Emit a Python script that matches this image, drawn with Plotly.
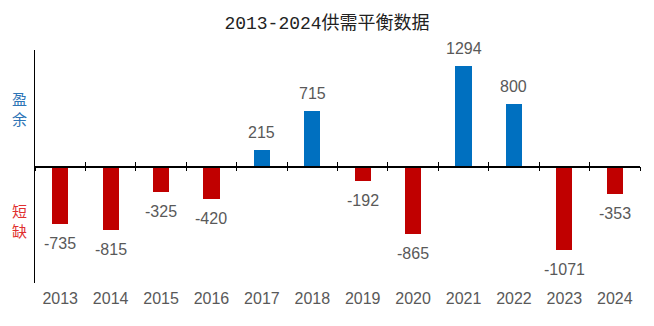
import plotly.graph_objects as go

years = ["2013", "2014", "2015", "2016", "2017", "2018", "2019", "2020", "2021", "2022", "2023", "2024"]
values = [-735, -815, -325, -420, 215, 715, -192, -865, 1294, 800, -1071, -353]
title_text = "2013-2024供需平衡数据"
surplus_label = "盈<br>余"
deficit_label = "短<br>缺"

BLUE = "#0070C0"
RED = "#C00000"
GRAY = "#595959"
NUM_FONT = "Liberation Sans Narrow, Liberation Sans, Arial, sans-serif"

colors = [BLUE if v >= 0 else RED for v in values]

fig = go.Figure()
fig.add_trace(go.Bar(x=years, y=values, marker_color=colors, width=0.32,
                     marker_line_width=0, hoverinfo="skip", showlegend=False))
# invisible traces to build zero-line axes with boundary ticks
for ax in ["x2", "x3"]:
    fig.add_trace(go.Scatter(x=years, y=[0] * len(years), xaxis=ax, mode="lines",
                             line=dict(width=0), hoverinfo="skip", showlegend=False))

annotations = []
for i, v in enumerate(values):
    annotations.append(dict(
        x=i, y=v, xref="x", yref="y", text=str(v), showarrow=False,
        yanchor="bottom" if v >= 0 else "top", yshift=7 if v >= 0 else -9,
        font=dict(family=NUM_FONT, size=16, color=GRAY)))
annotations.append(dict(x=-0.025, y=750, xref="paper", yref="y", text=surplus_label,
                        showarrow=False, xanchor="center", yanchor="middle",
                        font=dict(family="Noto Sans CJK SC", size=15, color="#2E75B6")))
annotations.append(dict(x=-0.025, y=-700, xref="paper", yref="y", text=deficit_label,
                        showarrow=False, xanchor="center", yanchor="middle",
                        font=dict(family="Noto Sans CJK SC", size=15, color="#E03030")))

common_zero = dict(type="category", categoryorder="array", categoryarray=years,
                   overlaying="x", anchor="free", position=0.5, showline=True,
                   linecolor="black", linewidth=1.5, tickson="boundaries",
                   tickcolor="black", ticklen=4, tickwidth=1.2, showticklabels=False,
                   showgrid=False, zeroline=False, range=[-0.5, 11.5], fixedrange=True)

fig.update_layout(
    width=654, height=326,
    margin=dict(l=35, r=14, t=50, b=43),
    paper_bgcolor="white", plot_bgcolor="white",
    title=dict(text=title_text, x=0.5, xanchor="center", y=0.93, yanchor="middle",
               font=dict(family="Liberation Mono, Noto Sans CJK SC", size=18, color="#222222",
                         weight="normal")),
    xaxis=dict(type="category", categoryorder="array", categoryarray=years,
               range=[-0.5, 11.5], showline=False, showgrid=False, zeroline=False,
               ticks="", ticklabelstandoff=4,
               tickfont=dict(family=NUM_FONT, size=16, color=GRAY)),
    xaxis2=dict(ticks="outside", **common_zero),
    xaxis3=dict(ticks="inside", **common_zero),
    yaxis=dict(range=[-1500, 1500], showline=True, linecolor="black", linewidth=1.2,
               showgrid=False, zeroline=False, showticklabels=False, ticks=""),
    annotations=annotations,
    bargap=0,
)

fig.write_html("out.html")
